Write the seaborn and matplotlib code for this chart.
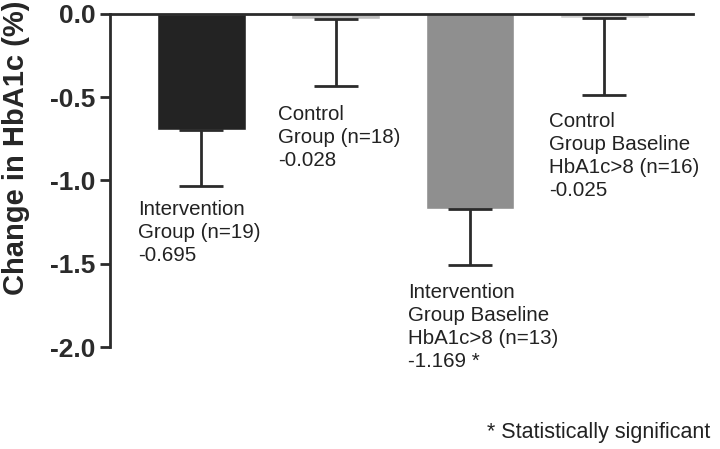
import numpy as np
import pandas as pd
import seaborn as sns
import matplotlib
matplotlib.use("Agg")
import matplotlib.pyplot as plt

# Werte
groups = ["Intervention", "Control", "Intervention >8", "Control >8"]
change = [-0.695, -0.028, -1.169, -0.025]
err_low = [0.338, 0.404, 0.339, 0.461]
bar_colors = ["#232323", "#bdbdbd", "#8f8f8f", "#d2d2d2"]
labels = [
    "Intervention\nGroup (n=19)\n-0.695",
    "Control\nGroup (n=18)\n-0.028",
    "Intervention\nGroup Baseline\nHbA1c>8 (n=13)\n-1.169 *",
    "Control\nGroup Baseline\nHbA1c>8 (n=16)\n-0.025",
]
label_y = [-1.117, -0.547, -1.616, -0.589]
label_dx = [-0.47, -0.427, -0.464, -0.411]
yticks = [0.0, -0.5, -1.0, -1.5, -2.0]

sns.set_style("ticks")
plt.rcParams["font.family"] = ["Liberation Sans", "DejaVu Sans"]

df = pd.DataFrame({"group": groups, "change": change})

fig = plt.figure(figsize=(7.2, 4.49), dpi=100)
ax = fig.add_axes([0.153, 0.227, 0.8095, 0.742])

sns.barplot(data=df, x="group", y="change", hue="group", palette=bar_colors,
            legend=False, width=0.66, errorbar=None, ax=ax, saturation=1)

# nur Fehlerbalken nach unten
xs = np.arange(len(groups))
ax.errorbar(xs, change, yerr=[err_low, [0] * len(groups)], fmt="none",
            ecolor="#2b2b2b", elinewidth=2.0, capsize=16, capthick=2.0, zorder=1)

for i, txt in enumerate(labels):
    ax.text(i + label_dx[i], label_y[i], txt, ha="left", va="top",
            fontsize=14.8, color="#222222", linespacing=1.26)

ax.set_xlim(-0.68, 3.66)
ax.set_ylim(-2.0, 0.0)
ax.set_yticks(yticks)
ax.set_yticklabels([f"{v:.1f}" for v in yticks], fontweight="bold", fontsize=19)
ax.set_xticks([])
ax.set_xlabel("")
ax.set_ylabel("Change in HbA1c (%)", fontweight="bold", fontsize=21)
ax.yaxis.set_label_coords(-0.137, 0.598)

for side in ["right", "bottom"]:
    ax.spines[side].set_visible(False)
for side in ["left", "top"]:
    ax.spines[side].set_linewidth(2.0)
    ax.spines[side].set_color("#2b2b2b")
ax.tick_params(axis="y", length=7.5, width=2.0, pad=3, color="#2b2b2b", labelcolor="#2b2b2b")

fig.text(0.986, 0.036, "* Statistically significant", ha="right", va="center",
         fontsize=15.5, color="#222222")

fig.savefig("out.png", dpi=100)
